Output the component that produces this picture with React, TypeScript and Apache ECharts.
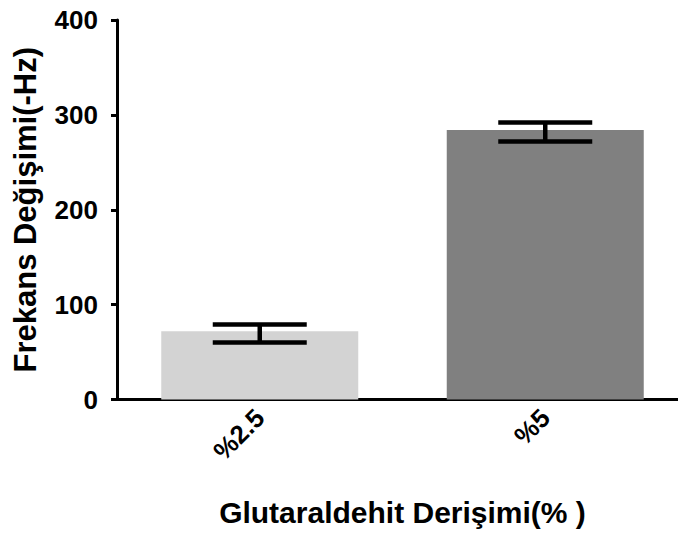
import React, { useEffect, useRef } from "react";
import * as echarts from "echarts";

const categories = ["%2.5", "%5"];
const means = [72, 284];
const errLow = [60, 272];
const errHigh = [79, 292];
const barColors = ["#d3d3d3", "#808080"];
const yTicks = { min: 0, max: 400, interval: 100 };

export default function App() {
  const ref = useRef<HTMLDivElement>(null);
  useEffect(() => {
    if (!ref.current) return;
    const chart = echarts.init(ref.current, null, { renderer: "svg" });
    const font = "'Liberation Sans', Arial, sans-serif";
    chart.setOption({
      animation: false,
      backgroundColor: "#ffffff",
      grid: {
        left: 117,
        top: 20,
        width: 571,
        height: 379.5,
        containLabel: false,
        outerBoundsMode: "none",
      },
      xAxis: {
        type: "category",
        data: categories,
        name: "Glutaraldehit Derişimi(% )",
        nameLocation: "middle",
        nameGap: 98,
        nameTextStyle: { fontFamily: font, fontWeight: "bold", fontSize: 30, color: "#000" },
        axisLine: { lineStyle: { color: "#000", width: 3 } },
        axisTick: { alignWithLabel: true, length: 9, lineStyle: { color: "#000", width: 3 } },
        axisLabel: {
          rotate: 45,
          margin: 14,
          fontFamily: font,
          fontWeight: "bold",
          fontSize: 26,
          color: "#000",
        },
      },
      yAxis: {
        type: "value",
        min: yTicks.min,
        max: yTicks.max,
        interval: yTicks.interval,
        name: "Frekans Değişimi(-Hz)",
        nameLocation: "middle",
        nameGap: 76,
        nameTextStyle: { fontFamily: font, fontWeight: "bold", fontSize: 31, color: "#000" },
        axisLine: { show: true, lineStyle: { color: "#000", width: 3 } },
        axisTick: { show: true, length: 6, lineStyle: { color: "#000", width: 3 } },
        splitLine: { show: false },
        axisLabel: {
          margin: 19,
          fontFamily: font,
          fontWeight: "bold",
          fontSize: 26,
          color: "#000",
        },
      },
      series: [
        {
          type: "bar",
          barWidth: 197,
          data: means.map((v, i) => ({ value: v, itemStyle: { color: barColors[i] } })),
          z: 1,
        },
        {
          type: "custom",
          z: 3,
          data: categories.map((_, i) => [i, errLow[i], errHigh[i]]),
          renderItem: (params: any, api: any) => {
            const x = api.value(0);
            const lo = api.coord([x, api.value(1)]);
            const hi = api.coord([x, api.value(2)]);
            const half = 47;
            const style = { stroke: "#000", lineWidth: 4.5 };
            return {
              type: "group",
              children: [
                { type: "line", shape: { x1: hi[0], y1: hi[1], x2: lo[0], y2: lo[1] }, style },
                { type: "line", shape: { x1: hi[0] - half, y1: hi[1], x2: hi[0] + half, y2: hi[1] }, style },
                { type: "line", shape: { x1: lo[0] - half, y1: lo[1], x2: lo[0] + half, y2: lo[1] }, style },
              ],
            };
          },
        },
      ],
    });
    return () => chart.dispose();
  }, []);
  return <div ref={ref} style={{ width: 678, height: 536, position: "absolute", left: 0, top: 0 }} />;
}
